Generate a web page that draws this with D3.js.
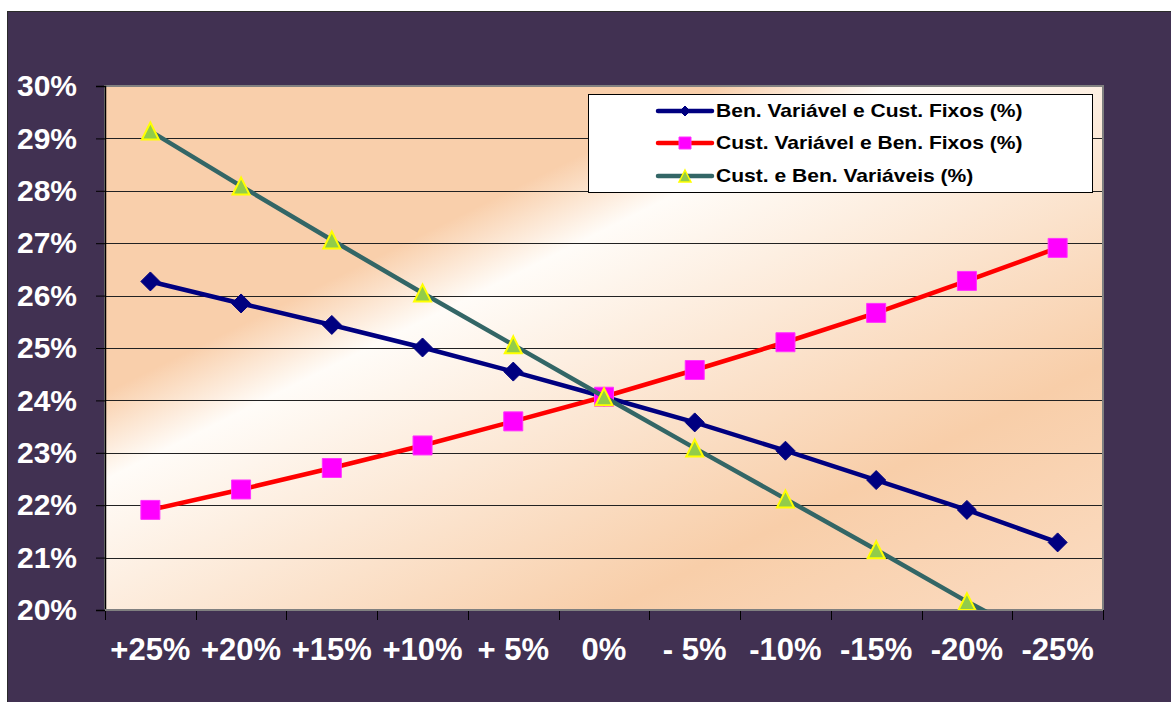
<!DOCTYPE html>
<html>
<head>
<meta charset="utf-8">
<script src="https://cdn.jsdelivr.net/npm/d3@7"></script>
<style>
  html, body { margin: 0; padding: 0; background: #fff; }
  svg { display: block; font-family: "Liberation Sans", Arial, sans-serif; }
</style>
</head>
<body>
<svg id="chart" width="1171" height="702"></svg>
<script>
// categories (variation of the parameters)
const categories = ['+25%', '+20%', '+15%', '+10%', '+ 5%', '0%', '- 5%', '-10%', '-15%', '-20%', '-25%'];
const yTicks = [20, 21, 22, 23, 24, 25, 26, 27, 28, 29, 30];

// series values (%)
const benVarCustFix = [26.27, 25.85, 25.44, 25.01, 24.55, 24.07, 23.58, 23.04, 22.48, 21.91, 21.29];
const custVarBenFix = [21.91, 22.30, 22.71, 23.14, 23.60, 24.07, 24.58, 25.11, 25.67, 26.28, 26.91];
const custBenVar = [29.14, 28.09, 27.06, 26.05, 25.06, 24.07, 23.09, 22.12, 21.15, 20.16, 19.25];

const seriesNames = [
  'Ben. Variável e Cust. Fixos (%)',
  'Cust. Variável e Ben. Fixos (%)',
  'Cust. e Ben. Variáveis (%)'
];

const series = [
  { name: seriesNames[0], values: benVarCustFix, line: '#000080', marker: 'diamond', fill: '#000080', stroke: '#000080' },
  { name: seriesNames[1], values: custVarBenFix, line: '#ff0000', marker: 'square', fill: '#ff00ff', stroke: '#ff33ff' },
  { name: seriesNames[2], values: custBenVar, line: '#336666', marker: 'triangle', fill: '#92cc4a', stroke: '#ffff00' }
];

const svg = d3.select('#chart');
const plot = { left: 105, top: 86, right: 1103, bottom: 610 };

const x = d3.scaleBand()
    .domain(categories)
    .range([plot.left, plot.right])
    .padding(0);

const y = d3.scaleLinear()
    .domain([20, 30])
    .range([plot.bottom, plot.top]);

// outer purple frame
svg.append('rect')
    .attr('x', 7.5).attr('y', 11.5)
    .attr('width', 1171).attr('height', 702)
    .attr('fill', '#413152')
    .attr('stroke', '#2b2b2b');

// plot-area gradient (peach / white diagonal band)
const defs = svg.append('defs');
const grad = defs.append('linearGradient')
    .attr('id', 'bg')
    .attr('gradientUnits', 'userSpaceOnUse')
    .attr('x1', 231).attr('y1', 23)
    .attr('x2', 640).attr('y2', 841);
[[0, '#f9cfab'], [0.30, '#f9cfab'], [0.385, '#fffcf8'], [0.76, '#f8cea9'], [1, '#fbdcc2']]
  .forEach(function(s) { grad.append('stop').attr('offset', s[0]).attr('stop-color', s[1]); });

defs.append('clipPath').attr('id', 'clip')
  .append('rect')
    .attr('x', plot.left).attr('y', plot.top)
    .attr('width', plot.right - plot.left).attr('height', plot.bottom - plot.top);

svg.append('rect')
    .attr('x', plot.left).attr('y', plot.top)
    .attr('width', plot.right - plot.left).attr('height', plot.bottom - plot.top)
    .attr('fill', 'url(#bg)');

// gridlines
svg.append('g')
  .selectAll('line')
  .data(yTicks.slice(1, -1))
  .enter().append('line')
    .attr('x1', plot.left).attr('x2', plot.right)
    .attr('y1', function(d) { return Math.round(y(d)) + 0.5; })
    .attr('y2', function(d) { return Math.round(y(d)) + 0.5; })
    .attr('stroke', '#222')
    .attr('stroke-width', 1.2);

// plot border (gray)
svg.append('rect')
    .attr('x', plot.left).attr('y', plot.top)
    .attr('width', plot.right - plot.left).attr('height', plot.bottom - plot.top)
    .attr('fill', 'none')
    .attr('stroke', '#808080')
    .attr('stroke-width', 2);

// y axis
const yAxis = svg.append('g')
    .attr('transform', 'translate(' + plot.left + ',0)')
    .call(d3.axisLeft(y)
      .tickValues(yTicks)
      .tickSize(9)
      .tickPadding(19)
      .tickFormat(function(d) { return d + '%'; }));
yAxis.select('.domain').attr('stroke', '#000').attr('stroke-width', 1.5);
yAxis.selectAll('.tick line').attr('stroke', '#000');
yAxis.selectAll('text')
    .attr('fill', '#fff')
    .attr('font-size', 30)
    .attr('font-weight', 'bold')
    .attr('font-family', '"Liberation Sans", Arial, sans-serif');

// x axis: labels centred on categories, ticks between categories
const xAxis = svg.append('g')
    .attr('transform', 'translate(0,' + plot.bottom + ')')
    .call(d3.axisBottom(x).tickSize(0).tickPadding(28));
xAxis.select('.domain').remove();
xAxis.selectAll('text')
    .attr('fill', '#fff')
    .attr('font-size', 31)
    .attr('font-weight', 'bold')
    .attr('font-family', '"Liberation Sans", Arial, sans-serif');

const boundaries = categories.map(function(c) { return x(c); }).concat([x.range()[1]]);
svg.append('g')
  .selectAll('line')
  .data(boundaries)
  .enter().append('line')
    .attr('x1', function(d) { return Math.round(d) + 0.5; })
    .attr('x2', function(d) { return Math.round(d) + 0.5; })
    .attr('y1', plot.bottom)
    .attr('y2', plot.bottom + 10)
    .attr('stroke', '#000');
svg.append('line')
    .attr('x1', plot.left).attr('x2', plot.right)
    .attr('y1', plot.bottom).attr('y2', plot.bottom)
    .attr('stroke', '#808080').attr('stroke-width', 2);

// marker shapes
function markerPath(type, r) {
  if (type === 'diamond') {
    return 'M0,' + (-r) + 'L' + r + ',0L0,' + r + 'L' + (-r) + ',0Z';
  }
  if (type === 'square') {
    return 'M' + (-r) + ',' + (-r) + 'H' + r + 'V' + r + 'H' + (-r) + 'Z';
  }
  return 'M0,' + (-r) + 'L' + r + ',' + r + 'L' + (-r) + ',' + r + 'Z';
}
const markerSize = { diamond: 9.5, square: 9.5, triangle: 8.5 };

const cx = function(i) { return x(categories[i]) + x.bandwidth() / 2; };
const line = d3.line()
    .x(function(d, i) { return cx(i); })
    .y(function(d) { return y(d); });

const data = svg.append('g').attr('clip-path', 'url(#clip)');
series.forEach(function(s) {
  data.append('path')
      .datum(s.values)
      .attr('fill', 'none')
      .attr('stroke', s.line)
      .attr('stroke-width', 4.5)
      .attr('stroke-linejoin', 'round')
      .attr('d', line);
  data.selectAll(null)
    .data(s.values)
    .enter().append('path')
      .attr('transform', function(d, i) { return 'translate(' + cx(i) + ',' + y(d) + ')'; })
      .attr('d', markerPath(s.marker, markerSize[s.marker]))
      .attr('fill', s.fill)
      .attr('stroke', s.stroke)
      .attr('stroke-width', s.marker === 'triangle' ? 2 : 1);
});

// legend
const legend = svg.append('g');
legend.append('rect')
    .attr('x', 588.5).attr('y', 94.5)
    .attr('width', 504).attr('height', 98)
    .attr('fill', '#fff')
    .attr('stroke', '#000');
const rowY = [111, 143, 176];
const legendMarker = { diamond: 5, square: 6, triangle: 6 };
series.forEach(function(s, i) {
  const row = legend.append('g').attr('transform', 'translate(0,' + rowY[i] + ')');
  row.append('line')
      .attr('x1', 658).attr('x2', 712)
      .attr('stroke', s.line)
      .attr('stroke-width', 4.5)
      .attr('stroke-linecap', 'round');
  row.append('path')
      .attr('transform', 'translate(685,0)')
      .attr('d', markerPath(s.marker, legendMarker[s.marker]))
      .attr('fill', s.fill)
      .attr('stroke', s.stroke)
      .attr('stroke-width', s.marker === 'triangle' ? 1.5 : 1);
  // text in the original is a bit wider than the font, stretch it horizontally
  row.append('text')
      .attr('transform', 'translate(716,0) scale(1.17,1)')
      .attr('dy', '0.36em')
      .attr('font-size', 18)
      .attr('font-weight', 'bold')
      .attr('fill', '#000')
      .text(s.name);
});
</script>
</body>
</html>
